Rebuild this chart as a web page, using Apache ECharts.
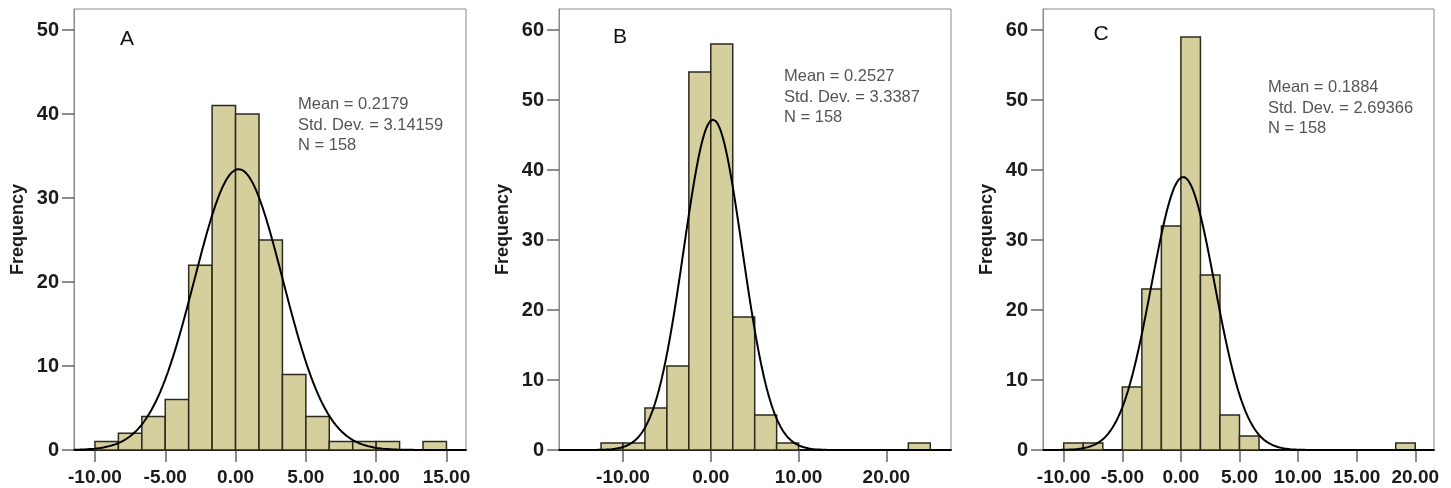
<!DOCTYPE html>
<html>
<head>
<meta charset="utf-8">
<script src="https://cdn.jsdelivr.net/npm/echarts@6/dist/echarts.min.js"></script>
<style>
html,body{margin:0;padding:0;background:#fff;}
#chart{width:1451px;height:488px;}
</style>
</head>
<body>
<div id="chart"></div>
<script>
// ---- Data ----
const panelLetters = ['A', 'B', 'C'];

const binStartA = -10;
const binWidthA = 5 / 3;
const countsA = [1, 2, 4, 6, 22, 41, 40, 25, 9, 4, 1, 1, 1, 0, 1];
const statsA = { mean: 0.2179, sd: 3.14159, n: 158 };
const statsTextA = ['Mean = 0.2179', 'Std. Dev. = 3.14159', 'N = 158'];
const xTicksA = [-10, -5, 0, 5, 10, 15];
const yTicksA = [0, 10, 20, 30, 40, 50];

const binStartB = -12.5;
const binWidthB = 2.5;
const countsB = [1, 1, 6, 12, 54, 58, 19, 5, 1, 0, 0, 0, 0, 0, 1];
const statsB = { mean: 0.2527, sd: 3.3387, n: 158 };
const statsTextB = ['Mean = 0.2527', 'Std. Dev. = 3.3387', 'N = 158'];
const xTicksB = [-10, 0, 10, 20];
const yTicksB = [0, 10, 20, 30, 40, 50, 60];

const binStartC = -10;
const binWidthC = 5 / 3;
const countsC = [1, 1, 0, 9, 23, 32, 59, 25, 5, 2, 0, 0, 0, 0, 0, 0, 0, 1];
const statsC = { mean: 0.1884, sd: 2.69366, n: 158 };
const statsTextC = ['Mean = 0.1884', 'Std. Dev. = 2.69366', 'N = 158'];
const xTicksC = [-10, -5, 0, 5, 10, 15, 20];
const yTicksC = [0, 10, 20, 30, 40, 50, 60];

// ---- Layout / style ----
const FONT = "'Liberation Sans', Arial, sans-serif";
const panels = [
  { start: binStartA, width: binWidthA, counts: countsA, stats: statsA, text: statsTextA, xt: xTicksA, yt: yTicksA,
    grid: { left: 74, top: 9, width: 392, height: 441 }, xmin: -11.49, xmax: 16.39, ymax: 52.5,
    textPos: [298, 94.5], letterPos: [127, 39] },
  { start: binStartB, width: binWidthB, counts: countsB, stats: statsB, text: statsTextB, xt: xTicksB, yt: yTicksB,
    grid: { left: 559, top: 9, width: 392, height: 441 }, xmin: -17.29, xmax: 27.36, ymax: 63,
    textPos: [784, 66.5], letterPos: [620, 37] },
  { start: binStartC, width: binWidthC, counts: countsC, stats: statsC, text: statsTextC, xt: xTicksC, yt: yTicksC,
    grid: { left: 1043, top: 9, width: 391, height: 441 }, xmin: -11.77, xmax: 21.6, ymax: 63,
    textPos: [1268, 77.5], letterPos: [1101, 34.5] }
];

const grids = [], xAxes = [], yAxes = [], series = [], graphics = [];

panels.forEach((p, i) => {
  grids.push(Object.assign({ show: true, borderColor: '#8a8a8a', borderWidth: 1, backgroundColor: '#fff', containLabel: false }, p.grid));
  xAxes.push({
    type: 'value', gridIndex: i, min: p.xmin, max: p.xmax,
    axisLine: { show: true, onZero: false, lineStyle: { color: '#111', width: 2 } },
    axisTick: { show: true, length: 12, customValues: p.xt, lineStyle: { color: '#666', width: 1.5 } },
    axisLabel: { customValues: p.xt, margin: 18, color: '#1a1a1a', fontFamily: FONT, fontSize: 19, fontWeight: 'bold',
      formatter: v => v.toFixed(2) },
    splitLine: { show: false }
  });
  yAxes.push({
    type: 'value', gridIndex: i, min: 0, max: p.ymax,
    name: 'Frequency', nameLocation: 'middle', nameGap: 47,
    nameTextStyle: { color: '#1a1a1a', fontFamily: FONT, fontSize: 18, fontWeight: 'bold' },
    axisLine: { show: true, onZero: false, lineStyle: { color: '#8a8a8a', width: 1 } },
    axisTick: { show: true, length: 12, customValues: p.yt, lineStyle: { color: '#666', width: 1.5 } },
    axisLabel: { customValues: p.yt, margin: 15, color: '#1a1a1a', fontFamily: FONT, fontSize: 20, fontWeight: 'bold' },
    splitLine: { show: false }
  });

  const bars = [];
  p.counts.forEach((c, k) => {
    if (c > 0) bars.push([p.start + k * p.width, p.start + (k + 1) * p.width, c]);
  });
  series.push({
    type: 'custom', xAxisIndex: i, yAxisIndex: i, z: 2,
    data: bars,
    encode: { x: [0, 1], y: 2 },
    renderItem: (params, api) => {
      const a = api.coord([api.value(0), api.value(2)]);
      const b = api.coord([api.value(1), 0]);
      return {
        type: 'rect',
        shape: { x: a[0], y: a[1], width: b[0] - a[0], height: b[1] - a[1] },
        style: { fill: '#d4cf9c', stroke: '#2b2a1e', lineWidth: 1.5 }
      };
    }
  });

  // Fitted normal curve from the displayed Mean / Std. Dev. / N
  const s = p.stats, curve = [];
  const steps = 400;
  for (let k = 0; k <= steps; k++) {
    const x = p.xmin + (p.xmax - p.xmin) * k / steps;
    const z = (x - s.mean) / s.sd;
    const y = s.n * p.width / (s.sd * Math.sqrt(2 * Math.PI)) * Math.exp(-0.5 * z * z);
    curve.push([x, y]);
  }
  series.push({
    type: 'line', xAxisIndex: i, yAxisIndex: i, z: 5, data: curve,
    showSymbol: false, symbol: 'none', smooth: false, clip: true,
    lineStyle: { color: '#000', width: 2 }, silent: true
  });

  graphics.push({
    type: 'text', x: p.textPos[0], y: p.textPos[1], z: 10,
    style: { text: p.text.join('\n'), fill: '#555', font: '16.5px ' + FONT, lineHeight: 20.5, textVerticalAlign: 'top' }
  });
  graphics.push({
    type: 'text', x: p.letterPos[0], y: p.letterPos[1], z: 10,
    style: { text: panelLetters[i], fill: '#111', font: '21px ' + FONT, textAlign: 'center', textVerticalAlign: 'middle' }
  });
});

const chart = echarts.init(document.getElementById('chart'), null, { renderer: 'canvas' });
chart.setOption({
  animation: false,
  backgroundColor: '#fff',
  grid: grids,
  xAxis: xAxes,
  yAxis: yAxes,
  series: series,
  graphic: graphics
});
</script>
</body>
</html>
